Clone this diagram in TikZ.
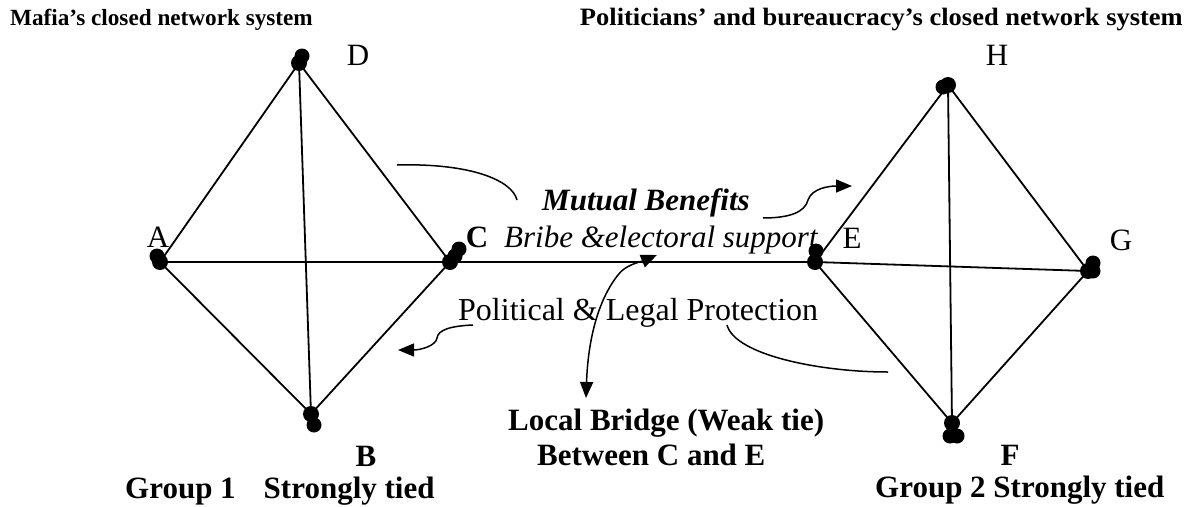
\documentclass[tikz,border=0pt]{standalone}
\usepackage{fontspec}
\setmainfont{Liberation Serif}
\usetikzlibrary{arrows.meta}
\newcommand\myfs[1]{\fontsize{#1}{#1}\selectfont}
\begin{document}
\begin{tikzpicture}[x=1pt,y=-1pt,
  vtx/.style={circle,fill=black,inner sep=0pt,minimum size=16pt},
  blob/.style={fill=black},
  tie/.style={line width=1.8pt},
  note/.style={line width=1.5pt},
  tip/.style={-{Triangle[length=16pt,width=13pt]}},
  both/.style={{Triangle[length=16pt,width=13pt]}-{Triangle[length=16pt,width=13pt]}},
  txt/.style={inner sep=0pt,font=\myfs{31}},
  btxt/.style={inner sep=0pt,font=\myfs{31}\bfseries},
  ttl/.style={inner sep=0pt,font=\myfs{23.2}\bfseries},
]
\useasboundingbox (0,0) rectangle (1188,506);

% Group 1 vertices
\node[vtx] (A) at (160,262) {};
\node[vtx] (D) at (299,63) {};
\node[vtx] (C) at (450,262) {};
\node[vtx] (B) at (311,414) {};
\fill[blob] (157,256) circle (7.5);
\fill[blob] (302,56) circle (7.5);
\fill[blob] (459,249) circle (7.5);
\fill[blob] (455,256) circle (7.5);
\fill[blob] (314,425) circle (7.5);

% Group 2 vertices
\node[vtx] (E) at (815,262) {};
\node[vtx] (H) at (948,85) {};
\node[vtx] (G) at (1088,271) {};
\node[vtx] (F) at (952,423) {};
\fill[blob] (816,251) circle (7.5);
\fill[blob] (943,87) circle (7.5);
\fill[blob] (1093,263) circle (7.5);
\fill[blob] (1093,271) circle (7.5);
\fill[blob] (950,436) circle (7.5);
\fill[blob] (957,436) circle (7.5);

% edges
\draw[tie] (A.center) -- (D.center) -- (C.center) -- (B.center) -- (A.center) -- (C.center);
\draw[tie] (D.center) -- (B.center);
\draw[tie] (E.center) -- (H.center) -- (G.center) -- (F.center) -- (E.center) -- (G.center);
\draw[tie] (H.center) -- (F.center);
\draw[tie] (C.center) -- (E.center);

% vertex labels
\node[txt,anchor=base] (lD) at (358,65) {D};
\node[txt,anchor=base] (lA) at (158,247) {A};
\node[btxt,anchor=base] (lC) at (477,247) {C};
\node[btxt,anchor=base] (lB) at (366,466) {B};
\node[txt,anchor=base] (lH) at (997,65) {H};
\node[txt,anchor=base] (lE) at (852,248) {E};
\node[txt,anchor=base] (lG) at (1121,250) {G};
\node[btxt,anchor=base] (lF) at (1010,465) {F};

% titles
\node[ttl,anchor=base west] (t1) at (10,25) {Mafia’s closed network system};
\node[inner sep=0pt,font=\myfs{25}\bfseries,anchor=base east] (t2) at (1183,25) {\scalebox{1.06}[1]{Politicians’ and bureaucracy’s closed network system}};

% middle texts
\node[inner sep=0pt,font=\myfs{31}\bfseries\itshape,anchor=base west] (mb) at (542,210) {Mutual Benefits};
\node[inner sep=0pt,font=\myfs{31}\itshape,anchor=base west] (bs) at (504,247) {Bribe \&electoral support};
\node[inner sep=0pt,font=\myfs{32},anchor=base west] (pl) at (458,320) {Political \& Legal Protection};
\node[btxt,anchor=base west] (lb) at (508,430) {Local Bridge (Weak tie)};
\node[btxt,anchor=base west] (bce) at (537,465) {Between C and E};
\node[btxt,anchor=base west] (g1) at (125,498) {Group 1\hspace{28pt}Strongly tied};
\node[btxt,anchor=base west] (g2) at (875,497) {Group 2 Strongly tied};

% annotation curves
\coordinate (m1) at (397,165);
\coordinate (m2) at (517,200);
\draw[note] (m1) .. controls (470,163) and (512,180) .. (m2);

\coordinate (m3) at (763,218);
\coordinate (m4) at (852,186);
\draw[note,tip] (m3) .. controls (790,218) and (805,212) .. (808,200) .. controls (812,188) and (830,186) .. (m4);

\coordinate (p1) at (473,325);
\coordinate (p2) at (398,350);
\draw[note,tip] (p1) .. controls (450,326) and (438,330) .. (437,338) .. controls (436,346) and (420,350) .. (p2);

\coordinate (b1) at (657,255);
\coordinate (b2) at (586,398);
\draw[note,both] (b1) .. controls (640,262) and (625,265) .. (618,275) .. controls (598,300) and (588,340) .. (b2);

\coordinate (q1) at (727,325);
\coordinate (q2) at (888,372);
\draw[note] (q1) .. controls (735,355) and (820,372) .. (q2);
\end{tikzpicture}
\end{document}
